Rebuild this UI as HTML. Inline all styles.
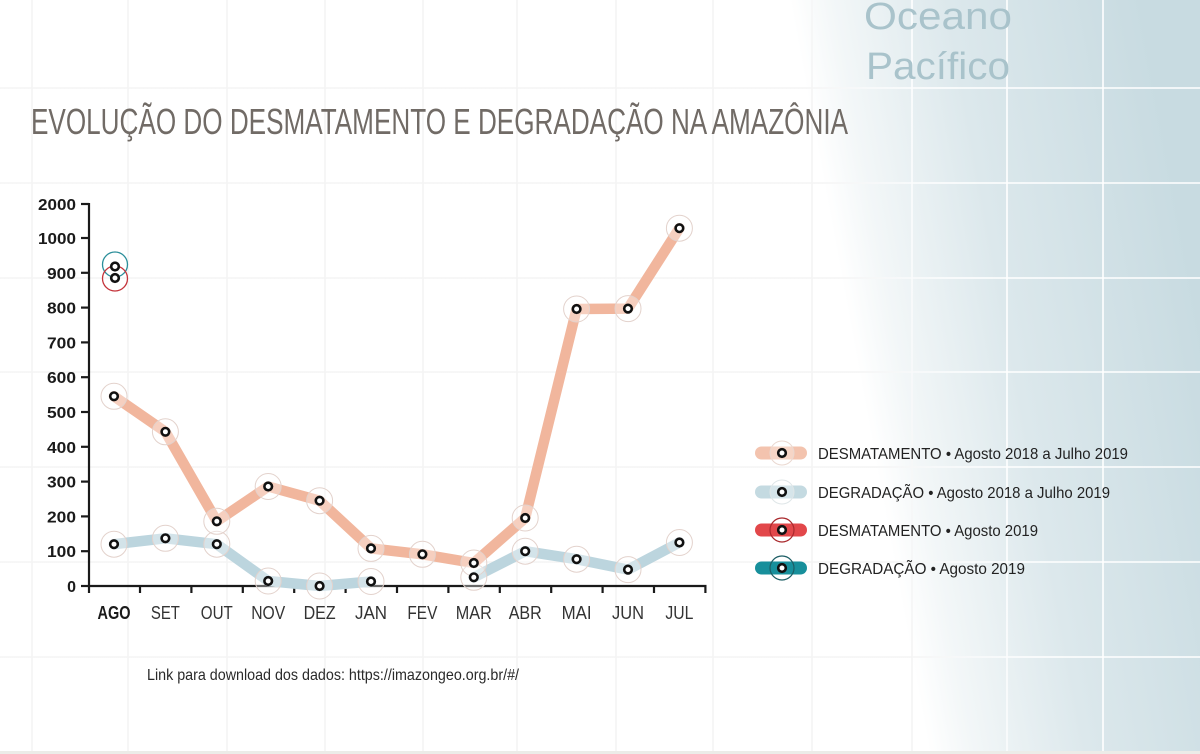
<!DOCTYPE html>
<html>
<head>
<meta charset="utf-8">
<style>
  html,body{margin:0;padding:0;background:#fff;}
  svg{display:block;}
  text{font-family:"Liberation Sans", sans-serif;}
</style>
</head>
<body>
<svg width="1200" height="754" viewBox="0 0 1200 754" xmlns="http://www.w3.org/2000/svg">
  <defs>
    <linearGradient id="bg" gradientUnits="userSpaceOnUse" x1="860" y1="380" x2="1200" y2="317">
      <stop offset="0" stop-color="#ffffff"/>
      <stop offset="0.12" stop-color="#f3f7f8"/>
      <stop offset="0.45" stop-color="#dce8ec"/>
      <stop offset="1" stop-color="#c8dbe1"/>
    </linearGradient>
    <linearGradient id="grid" gradientUnits="userSpaceOnUse" x1="860" y1="380" x2="1200" y2="317">
      <stop offset="0" stop-color="#f4f4f4"/>
      <stop offset="0.2" stop-color="#fafbfc"/>
      <stop offset="0.35" stop-color="#ffffff"/>
      <stop offset="1" stop-color="#ffffff"/>
    </linearGradient>
  </defs>

  <rect x="0" y="0" width="1200" height="754" fill="url(#bg)"/>

  <g stroke="url(#grid)" stroke-width="1.6" fill="none">
    <line x1="32" y1="0" x2="32" y2="754"/>
    <line x1="128" y1="0" x2="128" y2="754"/>
    <line x1="227" y1="0" x2="227" y2="754"/>
    <line x1="325" y1="0" x2="325" y2="754"/>
    <line x1="423" y1="0" x2="423" y2="754"/>
    <line x1="517" y1="0" x2="517" y2="754"/>
    <line x1="616" y1="0" x2="616" y2="754"/>
    <line x1="713" y1="0" x2="713" y2="754"/>
    <line x1="812" y1="0" x2="812" y2="754"/>
    <line x1="912" y1="0" x2="912" y2="754"/>
    <line x1="1007" y1="0" x2="1007" y2="754"/>
    <line x1="1103" y1="0" x2="1103" y2="754"/>
    <line x1="0" y1="88" x2="1200" y2="88"/>
    <line x1="0" y1="183" x2="1200" y2="183"/>
    <line x1="0" y1="278" x2="1200" y2="278"/>
    <line x1="0" y1="372" x2="1200" y2="372"/>
    <line x1="0" y1="467" x2="1200" y2="467"/>
    <line x1="0" y1="562" x2="1200" y2="562"/>
    <line x1="0" y1="657" x2="1200" y2="657"/>
  </g>
  <rect x="0" y="751" width="1200" height="3" fill="#ecece8"/>

  <text x="864" y="29" font-size="38" fill="#a9c3cb" textLength="148" lengthAdjust="spacingAndGlyphs">Oceano</text>
  <text x="866" y="79" font-size="38" fill="#a9c3cb" textLength="144" lengthAdjust="spacingAndGlyphs">Pacífico</text>

  <text x="31" y="134" font-size="36" fill="#716b66" textLength="817" lengthAdjust="spacingAndGlyphs">EVOLUÇÃO DO DESMATAMENTO E DEGRADAÇÃO NA AMAZÔNIA</text>

  <g stroke="#1a1a1a" stroke-width="2.2" fill="none">
    <line x1="89" y1="203" x2="89" y2="593"/>
    <line x1="88" y1="586" x2="706.5" y2="586"/>
    <line x1="81" y1="204" x2="89" y2="204"/>
    <line x1="81" y1="238" x2="89" y2="238"/>
    <line x1="81" y1="272.8" x2="89" y2="272.8"/>
    <line x1="81" y1="307.6" x2="89" y2="307.6"/>
    <line x1="81" y1="342.4" x2="89" y2="342.4"/>
    <line x1="81" y1="377.2" x2="89" y2="377.2"/>
    <line x1="81" y1="412" x2="89" y2="412"/>
    <line x1="81" y1="446.8" x2="89" y2="446.8"/>
    <line x1="81" y1="481.6" x2="89" y2="481.6"/>
    <line x1="81" y1="516.4" x2="89" y2="516.4"/>
    <line x1="81" y1="551.2" x2="89" y2="551.2"/>
    <line x1="81" y1="586" x2="89" y2="586"/>
    <line x1="140" y1="586" x2="140" y2="593"/>
    <line x1="191.4" y1="586" x2="191.4" y2="593"/>
    <line x1="242.8" y1="586" x2="242.8" y2="593"/>
    <line x1="294.2" y1="586" x2="294.2" y2="593"/>
    <line x1="345.6" y1="586" x2="345.6" y2="593"/>
    <line x1="397" y1="586" x2="397" y2="593"/>
    <line x1="448.4" y1="586" x2="448.4" y2="593"/>
    <line x1="499.8" y1="586" x2="499.8" y2="593"/>
    <line x1="551.2" y1="586" x2="551.2" y2="593"/>
    <line x1="602.6" y1="586" x2="602.6" y2="593"/>
    <line x1="654" y1="586" x2="654" y2="593"/>
    <line x1="705.4" y1="586" x2="705.4" y2="593"/>
  </g>

  <g font-size="16" font-weight="bold" fill="#1a1a1a" text-anchor="end">
    <text x="76" y="210" textLength="38" lengthAdjust="spacingAndGlyphs">2000</text>
    <text x="76" y="244" textLength="38" lengthAdjust="spacingAndGlyphs">1000</text>
    <text x="76" y="278.8" textLength="29" lengthAdjust="spacingAndGlyphs">900</text>
    <text x="76" y="313.6" textLength="29" lengthAdjust="spacingAndGlyphs">800</text>
    <text x="76" y="348.4" textLength="29" lengthAdjust="spacingAndGlyphs">700</text>
    <text x="76" y="383.2" textLength="29" lengthAdjust="spacingAndGlyphs">600</text>
    <text x="76" y="418" textLength="29" lengthAdjust="spacingAndGlyphs">500</text>
    <text x="76" y="452.8" textLength="29" lengthAdjust="spacingAndGlyphs">400</text>
    <text x="76" y="487.6" textLength="29" lengthAdjust="spacingAndGlyphs">300</text>
    <text x="76" y="522.4" textLength="29" lengthAdjust="spacingAndGlyphs">200</text>
    <text x="76" y="557.2" textLength="29" lengthAdjust="spacingAndGlyphs">100</text>
    <text x="76" y="592">0</text>
  </g>

  <g font-size="18" fill="#333" text-anchor="middle">
    <text x="114" y="619" font-weight="bold" fill="#1a1a1a" textLength="33" lengthAdjust="spacingAndGlyphs">AGO</text>
    <text x="165.4" y="619" textLength="29" lengthAdjust="spacingAndGlyphs">SET</text>
    <text x="216.8" y="619" textLength="32" lengthAdjust="spacingAndGlyphs">OUT</text>
    <text x="268.2" y="619" textLength="34" lengthAdjust="spacingAndGlyphs">NOV</text>
    <text x="319.6" y="619" textLength="32" lengthAdjust="spacingAndGlyphs">DEZ</text>
    <text x="371" y="619" textLength="32" lengthAdjust="spacingAndGlyphs">JAN</text>
    <text x="422.4" y="619" textLength="30" lengthAdjust="spacingAndGlyphs">FEV</text>
    <text x="473.8" y="619" textLength="36" lengthAdjust="spacingAndGlyphs">MAR</text>
    <text x="525.2" y="619" textLength="33" lengthAdjust="spacingAndGlyphs">ABR</text>
    <text x="576.6" y="619" textLength="30" lengthAdjust="spacingAndGlyphs">MAI</text>
    <text x="628" y="619" textLength="32" lengthAdjust="spacingAndGlyphs">JUN</text>
    <text x="679.4" y="619" textLength="28" lengthAdjust="spacingAndGlyphs">JUL</text>
  </g>

  <g fill="none" stroke="#bcd5de" stroke-width="10.5" stroke-linejoin="round" stroke-linecap="round">
    <polyline points="114,544.2 165.4,538.3 216.8,544.2 268.2,581 319.6,586 371,581.5"/>
    <polyline points="473.8,577.3 525.2,551.2 576.6,559.2 628,569.6 679.4,542.5"/>
  </g>
  <polyline fill="none" stroke="#f1b69d" stroke-width="10.5" stroke-linejoin="round" stroke-linecap="round"
    points="114,396.3 165.4,431.8 216.8,521.3 268.2,486.5 319.6,500.7 371,548.4 422.4,554.3 473.8,563 525.2,518 576.6,309 628,308.6 679.4,228.2"/>

  <g fill="#ffffff" fill-opacity="0.35" stroke="#e3d2cc" stroke-width="1">
    <circle cx="114" cy="544.2" r="13"/>
    <circle cx="165.4" cy="538.3" r="13"/>
    <circle cx="216.8" cy="544.2" r="13"/>
    <circle cx="268.2" cy="581" r="13"/>
    <circle cx="319.6" cy="586" r="13"/>
    <circle cx="371" cy="581.5" r="13"/>
    <circle cx="473.8" cy="577.3" r="13"/>
    <circle cx="525.2" cy="551.2" r="13"/>
    <circle cx="576.6" cy="559.2" r="13"/>
    <circle cx="628" cy="569.6" r="13"/>
    <circle cx="679.4" cy="542.5" r="13"/>
    <circle cx="114" cy="396.3" r="13"/>
    <circle cx="165.4" cy="431.8" r="13"/>
    <circle cx="216.8" cy="521.3" r="13"/>
    <circle cx="268.2" cy="486.5" r="13"/>
    <circle cx="319.6" cy="500.7" r="13"/>
    <circle cx="371" cy="548.4" r="13"/>
    <circle cx="422.4" cy="554.3" r="13"/>
    <circle cx="473.8" cy="563" r="13"/>
    <circle cx="525.2" cy="518" r="13"/>
    <circle cx="576.6" cy="309" r="13"/>
    <circle cx="628" cy="308.6" r="13"/>
    <circle cx="679.4" cy="228.2" r="13"/>
  </g>

  <circle cx="115" cy="264.5" r="12.5" fill="none" stroke="#2b8e9a" stroke-width="1.3"/>
  <circle cx="115" cy="278.5" r="12.5" fill="none" stroke="#c4333a" stroke-width="1.3"/>

  <g fill="#ffffff" stroke="#111" stroke-width="2.6">
    <circle cx="114" cy="544.2" r="3.8"/>
    <circle cx="165.4" cy="538.3" r="3.8"/>
    <circle cx="216.8" cy="544.2" r="3.8"/>
    <circle cx="268.2" cy="581" r="3.8"/>
    <circle cx="319.6" cy="586" r="3.8"/>
    <circle cx="371" cy="581.5" r="3.8"/>
    <circle cx="473.8" cy="577.3" r="3.8"/>
    <circle cx="525.2" cy="551.2" r="3.8"/>
    <circle cx="576.6" cy="559.2" r="3.8"/>
    <circle cx="628" cy="569.6" r="3.8"/>
    <circle cx="679.4" cy="542.5" r="3.8"/>
    <circle cx="114" cy="396.3" r="3.8"/>
    <circle cx="165.4" cy="431.8" r="3.8"/>
    <circle cx="216.8" cy="521.3" r="3.8"/>
    <circle cx="268.2" cy="486.5" r="3.8"/>
    <circle cx="319.6" cy="500.7" r="3.8"/>
    <circle cx="371" cy="548.4" r="3.8"/>
    <circle cx="422.4" cy="554.3" r="3.8"/>
    <circle cx="473.8" cy="563" r="3.8"/>
    <circle cx="525.2" cy="518" r="3.8"/>
    <circle cx="576.6" cy="309" r="3.8"/>
    <circle cx="628" cy="308.6" r="3.8"/>
    <circle cx="679.4" cy="228.2" r="3.8"/>
    <circle cx="115" cy="266.5" r="3.8"/>
    <circle cx="115" cy="278" r="3.8"/>
  </g>

  <g>
    <rect x="755" y="446.5" width="52" height="13" rx="6.5" fill="#f3c3ae"/>
    <circle cx="782" cy="453" r="12" fill="#ffffff" fill-opacity="0.3" stroke="#ead8d0" stroke-width="1"/>
    <circle cx="782" cy="453" r="3.8" fill="#fff" stroke="#111" stroke-width="2.6"/>

    <rect x="755" y="485.5" width="52" height="13" rx="6.5" fill="#c4dae1"/>
    <circle cx="782" cy="492" r="12" fill="#ffffff" fill-opacity="0.3" stroke="#dfe6e8" stroke-width="1"/>
    <circle cx="782" cy="492" r="3.8" fill="#fff" stroke="#111" stroke-width="2.6"/>

    <rect x="755" y="523.5" width="52" height="13" rx="6.5" fill="#e2474a"/>
    <circle cx="782" cy="530" r="12" fill="none" stroke="#a9282c" stroke-width="1.2"/>
    <circle cx="782" cy="530" r="3.8" fill="#fff" stroke="#111" stroke-width="2.6"/>

    <rect x="755" y="561.5" width="52" height="13" rx="6.5" fill="#178f9b"/>
    <circle cx="782" cy="568" r="12" fill="none" stroke="#1c5d64" stroke-width="1.2"/>
    <circle cx="782" cy="568" r="3.8" fill="#fff" stroke="#111" stroke-width="2.6"/>
  </g>
  <g font-size="16" fill="#222">
    <text x="818" y="459" textLength="310" lengthAdjust="spacingAndGlyphs">DESMATAMENTO • Agosto 2018 a Julho 2019</text>
    <text x="818" y="498" textLength="292" lengthAdjust="spacingAndGlyphs">DEGRADAÇÃO • Agosto 2018 a Julho 2019</text>
    <text x="818" y="536" textLength="220" lengthAdjust="spacingAndGlyphs">DESMATAMENTO • Agosto 2019</text>
    <text x="818" y="574" textLength="207" lengthAdjust="spacingAndGlyphs">DEGRADAÇÃO •  Agosto 2019</text>
  </g>

  <text x="147" y="680" font-size="16" fill="#2a2a2a" textLength="372" lengthAdjust="spacingAndGlyphs">Link para download dos dados: https://imazongeo.org.br/#/</text>
</svg>
</body>
</html>
